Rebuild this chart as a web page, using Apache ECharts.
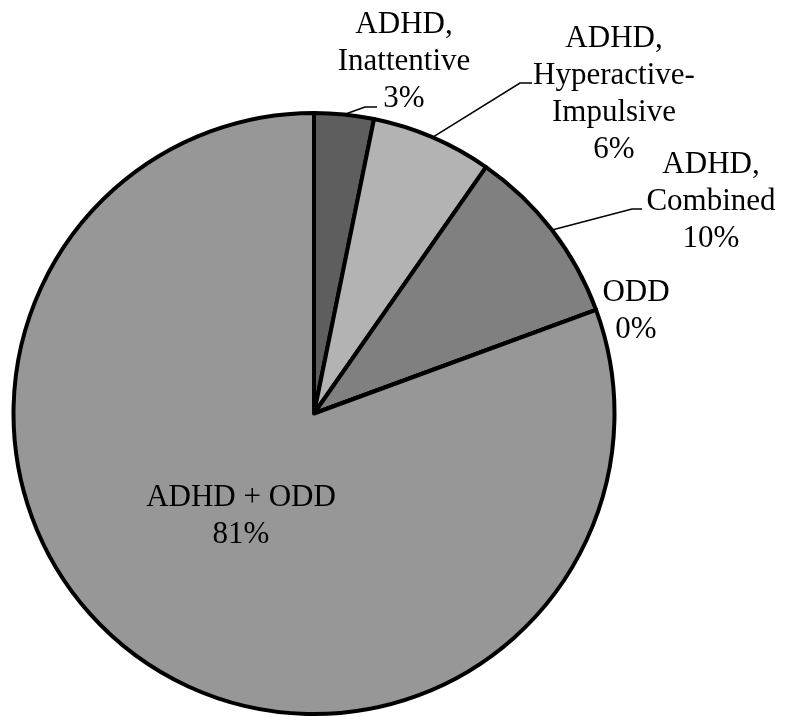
<!DOCTYPE html>
<html>
<head>
<meta charset="utf-8">
<script src="https://cdn.jsdelivr.net/npm/echarts@6/dist/echarts.min.js"></script>
<style>
  html, body { margin: 0; padding: 0; background: #ffffff; }
  #chart { width: 786px; height: 717px; }
</style>
</head>
<body>
<div id="chart"></div>
<script>
// Diagnosis groups (label text, line breaks included) and their shares
const categories = [
  'ADHD,\nInattentive',
  'ADHD,\nHyperactive-\nImpulsive',
  'ADHD,\nCombined',
  'ODD',
  'ADHD + ODD'
];
const shares = [3.2, 6.5, 9.7, 0, 80.6];
const sliceColors = ['#5e5e5e', '#b3b3b3', '#808080', '#808080', '#979797'];

// Label placement: block centre, plus the elbow and end of each leader line
const labelPlacement = [
  { center: [404, 62],  elbow: [365, 107], end: [377, 107] },
  { center: [614, 94],  elbow: [520, 83],  end: [532, 83] },
  { center: [711, 202], elbow: [632, 209], end: [642, 209] },
  { center: [636, 311] },
  { center: [241, 516] }
];

const chart = echarts.init(document.getElementById('chart'), null, { renderer: 'canvas' });

const pieData = categories.map((name, i) => {
  const item = {
    name: name,
    value: shares[i],
    itemStyle: { color: sliceColors[i] }
  };
  if (!labelPlacement[i].elbow) {
    item.labelLine = { show: false };
  }
  if (i === categories.length - 1) {
    item.label = { position: 'inside' };
  }
  return item;
});

chart.setOption({
  backgroundColor: '#ffffff',
  animation: false,
  series: [{
    type: 'pie',
    center: [314, 413.5],
    radius: 300.5,
    startAngle: 90,
    clockwise: true,
    percentPrecision: 0,
    avoidLabelOverlap: false,
    itemStyle: { borderColor: '#000000', borderWidth: 4 },
    emphasis: { disabled: true },
    label: {
      show: true,
      position: 'outside',
      formatter: '{b}\n{d}%',
      fontFamily: '"Liberation Serif", "Times New Roman", serif',
      fontSize: 31,
      lineHeight: 37,
      color: '#000000',
      align: 'center'
    },
    labelLine: {
      show: true,
      lineStyle: { color: '#000000', width: 1.5 }
    },
    labelLayout: function (params) {
      const p = labelPlacement[params.dataIndex];
      const out = {
        x: p.center[0],
        y: p.center[1],
        align: 'center',
        verticalAlign: 'middle'
      };
      if (p.elbow && params.labelLinePoints) {
        out.labelLinePoints = [params.labelLinePoints[0], p.elbow, p.end];
      }
      return out;
    },
    data: pieData
  }]
});
</script>
</body>
</html>
